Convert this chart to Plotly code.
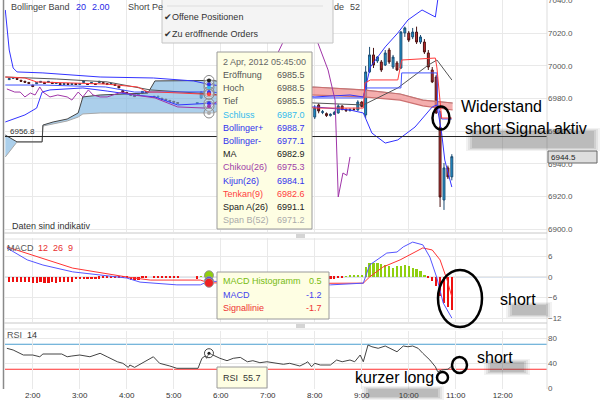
import plotly.graph_objects as go

D = "2012-04-02 "


def T(lst):
    return [D + t for t in lst]


# ---------------- data : candles (5 min) ----------------
candle_times = ["01:30", "01:35", "01:40", "01:45", "01:50", "01:55", "02:00", "02:05", "02:10", "02:15",
                "02:20", "02:25", "02:30", "02:35", "02:40", "02:45", "02:50", "02:55", "03:00", "03:05",
                "03:10", "03:15", "03:20", "03:25", "03:30", "03:35", "03:40", "03:45", "03:50", "03:55",
                "04:00", "04:05", "04:10", "04:15", "04:20", "04:25", "04:35", "04:40", "04:45", "04:50",
                "04:55", "05:00", "05:05", "05:30", "05:35", "05:40", "05:45",
                "08:00", "08:05", "08:10", "08:15", "08:20", "08:25", "08:30", "08:35", "08:40", "08:45",
                "08:50", "08:55", "09:00", "09:05", "09:10", "09:15", "09:20", "09:25", "09:30", "09:35",
                "09:40", "09:45", "09:50", "09:55", "10:00", "10:05", "10:10", "10:15", "10:20", "10:25",
                "10:30", "10:35", "10:40", "10:45", "10:50", "10:55"]
candle_open = [6991.6, 6992.4, 6992.4, 6991.2, 6990.6, 6989.9, 6988.2, 6989.1, 6989.9, 6989.9,
               6989.9, 6989.9, 6989.2, 6989.2, 6988.6, 6989.2, 6988.6, 6989.2, 6988.6, 6989.8,
               6989.2, 6989.2, 6989.2, 6989.8, 6989.8, 6989.2, 6988.6, 6988.6, 6987.6, 6985.0,
               6983.8, 6982.6, 6982.0, 6981.8, 6983.4, 6984.4, 6981.4, 6980.8, 6980.2, 6979.6,
               6978.9, 6978.3, 6977.6, 6977.0, 6980.4, 6983.4, 6985.5,
               6968.7, 6976.1, 6971.5, 6970.8, 6969.6, 6970.4, 6971.2, 6975.5, 6973.4, 6972.6,
               6973.4, 6973.0, 6977.9, 6970.0, 6996.3, 7006.7, 7003.0, 7002.4, 7000.5, 7009.7,
               6999.3, 7001.8, 6998.7, 7020.1, 7020.1, 7017.7, 7020.7, 7014.6, 7014.6, 7007.9,
               6997.5, 6993.2, 6962.6, 6918.0, 6937.6, 6932.1]
candle_high = [6992.4, 6993.0, 6992.6, 6991.4, 6990.8, 6990.1, 6988.4, 6990.0, 6990.7, 6990.1,
               6990.7, 6990.1, 6990.0, 6989.4, 6989.4, 6989.4, 6989.4, 6989.4, 6989.4, 6990.8,
               6989.4, 6990.0, 6989.4, 6990.8, 6990.0, 6989.4, 6989.4, 6988.8, 6987.8, 6985.2,
               6984.0, 6982.8, 6982.2, 6982.8, 6984.6, 6984.6, 6981.6, 6981.6, 6980.4, 6979.8,
               6979.1, 6978.5, 6977.8, 6977.8, 6984.6, 6984.0, 6988.5,
               6976.0, 6977.0, 6973.0, 6971.5, 6971.0, 6972.5, 6976.5, 6975.8, 6974.0, 6974.0,
               6974.4, 6979.0, 6978.4, 6999.9, 7011.6, 7011.0, 7006.0, 7003.6, 7009.7, 7011.0,
               7006.7, 7003.0, 7021.3, 7024.0, 7021.3, 7023.2, 7024.0, 7018.9, 7016.4, 7009.7,
               6999.3, 6994.4, 6972.4, 6940.6, 6939.0, 6946.0]
candle_low = [6991.4, 6992.2, 6991.6, 6990.4, 6989.8, 6989.1, 6987.0, 6988.9, 6989.7, 6989.0,
              6989.7, 6989.0, 6989.0, 6988.4, 6988.4, 6988.4, 6988.4, 6988.4, 6988.4, 6989.6,
              6988.4, 6989.0, 6988.4, 6989.6, 6989.0, 6988.4, 6988.4, 6987.8, 6986.4, 6983.6,
              6983.0, 6981.8, 6981.0, 6981.6, 6983.2, 6983.6, 6980.6, 6980.6, 6979.4, 6978.8,
              6978.2, 6977.6, 6976.9, 6976.8, 6979.8, 6981.6, 6985.5,
              6967.5, 6971.0, 6970.5, 6968.8, 6969.0, 6970.0, 6970.8, 6972.8, 6971.8, 6972.2,
              6972.8, 6972.6, 6974.6, 6968.1, 6995.7, 6998.7, 7001.8, 6996.3, 6999.9, 7001.2,
              6998.1, 6996.9, 6998.1, 7017.7, 7014.6, 7016.4, 7013.4, 7013.4, 7007.3, 6997.5,
              6989.5, 6970.6, 6913.7, 6911.9, 6930.8, 6930.0]
candle_close = [6992.2, 6992.8, 6991.8, 6990.6, 6990.0, 6989.3, 6987.4, 6989.8, 6990.5, 6989.2,
                6990.5, 6989.2, 6989.8, 6988.6, 6989.2, 6988.6, 6989.2, 6988.6, 6989.2, 6990.6,
                6988.6, 6989.8, 6988.6, 6990.6, 6989.2, 6988.6, 6989.2, 6988.0, 6986.6, 6983.8,
                6983.2, 6982.0, 6981.2, 6982.6, 6984.4, 6983.8, 6980.8, 6981.4, 6979.6, 6979.0,
                6978.4, 6977.8, 6977.1, 6977.6, 6984.0, 6982.2, 6987.0,
                6974.2, 6972.4, 6972.0, 6969.6, 6970.4, 6971.5, 6975.5, 6973.4, 6972.6, 6973.4,
                6973.2, 6977.9, 6975.2, 6996.3, 7006.7, 7000.5, 7005.4, 6997.5, 7007.9, 7002.4,
                7005.4, 6997.5, 7020.7, 7023.2, 7015.8, 7020.7, 7014.6, 7017.7, 7008.5, 6999.3,
                6990.2, 6971.2, 6919.8, 6937.6, 6932.1, 6944.5]

# ---------------- data : indicators (main panel) ----------------
span_times = ["01:25", "01:40", "02:12", "02:13", "02:26", "02:44", "02:58", "03:04", "03:26", "04:27",
              "04:36", "05:45", "05:50", "06:30", "07:10", "07:58", "09:02", "09:49", "10:18", "10:56"]
span_a = [6957.7, 6953.5, 6953.5, 6963.8, 6965.7, 6967.5, 6971.2, 6981.0, 6982.2, 6983.4,
          6990.8, 6991.1, 6991.1, 6988.0, 6983.0, 6982.2, 6981.0, 6979.1, 6975.5, 6973.0]
span_b = [6944.3, 6953.5, 6953.5, 6963.2, 6964.5, 6966.3, 6968.7, 6970.6, 6971.2, 6971.2,
          6971.2, 6971.2, 6971.2, 6978.0, 6983.0, 6987.1, 6985.3, 6982.8, 6979.1, 6977.3]
cloud_switch = "07:10"

bb_up_times = ["01:25", "01:30", "01:35", "01:40", "02:13", "03:26", "04:34", "05:25", "05:45", "07:00",
               "08:00", "08:45", "09:02", "09:11", "09:30", "09:46", "09:59", "10:17", "10:34", "10:37",
               "10:45", "10:55"]
bb_up = [7034.2, 7009.7, 6998.7, 6996.3, 6995.7, 6993.2, 6992.6, 6990.8, 6988.7, 6984.0,
         6981.0, 6982.2, 6981.0, 6999.3, 7011.6, 7020.1, 7028.1, 7034.2, 7029.9, 7040.3,
         7058.6, 7067.8]
bb_low_times = ["01:25", "01:50", "02:05", "02:12", "02:22", "03:04", "03:35", "04:10", "04:36", "05:05",
                "05:45", "07:00", "08:00", "08:45", "09:02", "09:13", "09:30", "09:46", "10:08", "10:30",
                "10:36", "10:42", "10:46", "10:55"]
bb_low = [6965.7, 6970.0, 6974.2, 6984.0, 6985.3, 6986.5, 6984.6, 6982.2, 6981.0, 6976.1,
          6977.1, 6974.2, 6974.9, 6973.0, 6971.2, 6958.9, 6952.8, 6954.7, 6962.6, 6974.9,
          6976.1, 6958.9, 6942.4, 6925.9]
ma_times = ["01:25", "02:30", "03:35", "04:14", "04:30", "05:45", "07:00", "08:00", "09:02", "09:46",
            "10:25", "10:36", "10:55"]
ma = [6993.2, 6992.0, 6990.2, 6986.5, 6985.3, 6982.9, 6979.1, 6977.3, 6976.1, 6986.5,
      7000.5, 7003.6, 6991.4]
tenkan_times = ["01:25", "01:50", "02:05", "03:33", "04:14", "04:27", "04:40", "05:45", "07:00", "08:00",
                "09:02", "09:04", "09:11", "09:46", "09:51", "10:25", "10:34", "10:36", "10:40", "10:42",
                "10:55"]
tenkan = [6993.2, 6992.6, 6990.2, 6988.9, 6987.1, 6984.0, 6984.0, 6982.6, 6979.1, 6974.2,
          6974.2, 6989.5, 6991.4, 6991.4, 7003.6, 7004.8, 7004.8, 6998.7, 6979.1, 6968.1,
          6968.1]
kijun_times = ["01:25", "02:13", "03:33", "04:10", "05:45", "07:00", "08:00", "09:02", "09:05", "09:50",
               "09:51", "10:36", "10:37", "10:42", "10:55"]
kijun = [6988.3, 6988.3, 6987.1, 6984.0, 6984.1, 6981.0, 6980.4, 6980.4, 6986.5, 6986.5,
         6995.7, 6995.7, 6976.1, 6967.5, 6967.5]
chikou_times = ["01:27", "01:37", "01:44", "01:50", "01:57", "02:03", "02:09", "02:13", "02:22", "02:32",
                "02:44", "02:50", "02:58", "03:04", "03:11", "03:17", "03:26", "03:35", "03:54", "04:10",
                "04:36", "05:05", "05:40", "05:45", "06:30", "07:10", "07:50", "07:58", "08:04", "08:17",
                "08:26", "08:30", "08:36", "08:41", "08:45"]
chikou = [6985.9, 6984.0, 6984.0, 6981.0, 6983.4, 6982.2, 6987.1, 6984.0, 6981.0, 6982.2,
          6981.0, 6979.1, 6984.0, 6981.0, 6985.3, 6982.2, 6981.0, 6981.0, 6984.0, 6982.2,
          6980.4, 6974.9, 6974.2, 6975.3, 6988.0, 7005.0, 7045.0, 7032.0, 7014.0, 6997.5,
          6979.0, 6919.8, 6934.5, 6933.0, 6944.3]
level_line = 6956.8
last_price = 6944.5

# tooltip at 05:45
tip_time = "05:45"
tip_labels = ["Eröffnung", "Hoch", "Tief", "Schluss", "Bollinger+", "Bollinger-", "MA",
              "Chikou(26)", "Kijun(26)", "Tenkan(9)", "Span A(26)", "Span B(52)"]
tip_values = [6985.5, 6988.5, 6985.5, 6987.0, 6988.7, 6977.1, 6982.9, 6975.3, 6984.1, 6982.6, 6991.1, 6971.2]

# ---------------- data : MACD ----------------
macd_hist = [-1.5, -1.5, -1.4, -1.5, -1.4, -1.6, -1.7, -1.7, -1.6, -1.7, -1.7, -1.6, -1.7, -1.6, -1.6,
             -1.5, -1.5, -0.7, -0.7, -0.6, -0.7, -0.6, -0.6, -0.5, -0.3, -0.3, -0.3, -0.2, -0.3, -0.3,
             -0.4, -0.9, -0.9, -0.8, -0.3, -0.3, -0.3, -0.2, -0.3, -0.3, -0.2, -0.3, -0.3, -0.5, 0.2,
             0.3, 0.5,
             -0.3, -0.3, -0.4, -0.4, -0.5, -0.5, -0.3, -0.1, 0.1, 0.3, 0.3, 0.4, 0.6, 3.0, 4.1, 4.1,
             4.1, 3.8, 3.5, 3.2, 2.6, 3.2, 3.2, 3.5, 3.2, 2.6, 2.2, 1.7, 0.6, -0.4, -1.2, -2.5, -5.5,
             -7.5, -8.8, -9.6]
macd_times = ["01:27", "01:53", "02:13", "02:51", "04:00", "04:17", "05:04", "05:34", "05:45", "07:00",
              "08:20", "09:02", "09:10", "09:32", "09:45", "09:53", "10:05", "10:18", "10:27", "10:36",
              "10:44", "10:55"]
macd = [8.5, 5.0, 3.5, 1.5, -0.3, -1.5, -2.3, -2.3, -1.2, -2.0,
        -2.3, -1.8, 3.5, 7.0, 7.3, 8.8, 10.2, 9.4, 5.8, -0.3, -7.6, -12.0]
signal_times = ["01:27", "02:00", "02:51", "04:00", "04:30", "05:34", "05:45", "07:00", "08:20", "09:02",
                "09:10", "09:27", "09:49", "10:05", "10:18", "10:30", "10:40", "10:49", "10:55"]
signal = [8.8, 6.4, 2.6, 0.0, -0.9, -0.9, -1.7, -1.9, -1.8, -1.8,
          0.0, 2.9, 5.0, 7.0, 8.5, 7.9, 5.0, -0.9, -5.8]
macd_tip = [0.5, -1.2, -1.7]

# ---------------- data : RSI ----------------
rsi_times = ["01:27", "01:35", "01:48", "02:00", "02:09", "02:13", "02:37", "02:44", "02:50", "03:00",
             "03:13", "03:26", "03:35", "03:48", "03:55", "04:02", "04:04", "04:10", "04:34", "04:42",
             "04:55", "05:04", "05:31", "05:36", "05:40", "05:42", "05:45", "05:59", "06:08", "06:16",
             "06:25", "06:34", "06:41", "06:50", "06:59", "07:12", "07:20", "07:28", "07:41", "07:48",
             "07:51", "07:56", "08:00", "08:07", "08:20", "08:28", "08:35", "08:45", "08:51", "08:58",
             "09:02", "09:08", "09:13", "09:21", "09:30", "09:36", "09:45", "09:53", "09:59", "10:05",
             "10:12", "10:18", "10:27", "10:34", "10:37", "10:42", "10:46", "10:50", "10:55"]
rsi = [63.5, 60.8, 52.8, 52.8, 50.0, 54.4, 54.4, 50.0, 51.2, 52.8,
       50.0, 55.5, 50.0, 42.0, 39.5, 33.0, 36.8, 33.0, 50.0, 39.5,
       35.2, 31.5, 31.5, 47.5, 51.2, 47.5, 55.7, 47.5, 43.7, 47.5,
       49.0, 42.0, 43.7, 40.5, 42.0, 39.5, 37.9, 39.5, 35.2, 39.5,
       42.0, 34.0, 39.5, 36.8, 36.8, 44.8, 42.0, 44.8, 42.0, 52.8,
       42.0, 68.8, 66.0, 63.5, 67.2, 63.5, 58.0, 67.2, 66.0, 67.2,
       63.5, 55.5, 44.8, 34.0, 26.0, 28.8, 30.0, 30.0, 35.2]
rsi_upper, rsi_lower = 70, 30
rsi_tip = 55.7

main_ticks = [6900, 6920, 6940, 6960, 6980, 7000, 7020, 7040]
macd_ticks = [-12, -6, 0, 6]
rsi_ticks = [0, 40, 80]

# ---------------- figure ----------------
FONT = "Arial, Liberation Sans, sans-serif"
fig = go.Figure()

k = span_times.index(cloud_switch)
# blue cloud
fig.add_trace(go.Scatter(x=T(span_times[:k + 1]), y=span_b[:k + 1], mode="lines",
                         line=dict(color="rgba(0,0,0,0)", width=0), xaxis="x", yaxis="y", showlegend=False))
fig.add_trace(go.Scatter(x=T(span_times[:k + 1]), y=span_a[:k + 1], mode="lines", fill="tonexty",
                         fillcolor="rgba(120,178,222,0.62)", line=dict(color="rgba(0,0,0,0)", width=0),
                         xaxis="x", yaxis="y", showlegend=False))
# red cloud
fig.add_trace(go.Scatter(x=T(span_times[k:]), y=span_a[k:], mode="lines",
                         line=dict(color="rgba(0,0,0,0)", width=0), xaxis="x", yaxis="y", showlegend=False))
fig.add_trace(go.Scatter(x=T(span_times[k:]), y=span_b[k:], mode="lines", fill="tonexty",
                         fillcolor="rgba(240,140,140,0.7)", line=dict(color="rgba(0,0,0,0)", width=0),
                         xaxis="x", yaxis="y", showlegend=False))
# span lines
fig.add_trace(go.Scatter(x=T(span_times), y=span_b, mode="lines", line=dict(color="#a8a8a8", width=1),
                         xaxis="x", yaxis="y", showlegend=False))
fig.add_trace(go.Scatter(x=T(span_times[:k + 1]), y=span_a[:k + 1], mode="lines", line=dict(color="#444", width=1),
                         xaxis="x", yaxis="y", showlegend=False))
fig.add_trace(go.Scatter(x=T(span_times[k:]), y=span_a[k:], mode="lines", line=dict(color="#cc7070", width=1.2),
                         xaxis="x", yaxis="y", showlegend=False))
fig.add_trace(go.Scatter(x=T(span_times[k:]), y=span_b[k:], mode="lines", line=dict(color="#cc7070", width=1.2),
                         xaxis="x", yaxis="y", showlegend=False))

for xs, ys, col, w in [(bb_up_times, bb_up, "#3333ff", 1), (bb_low_times, bb_low, "#3333ff", 1),
                       (ma_times, ma, "#555555", 1), (kijun_times, kijun, "#4455ff", 1),
                       (tenkan_times, tenkan, "#ff3b3b", 1), (chikou_times, chikou, "#a035a8", 1)]:
    fig.add_trace(go.Scatter(x=T(xs), y=ys, mode="lines", line=dict(color=col, width=w),
                             xaxis="x", yaxis="y", showlegend=False))

fig.add_trace(go.Candlestick(
    x=T(candle_times), open=candle_open, high=candle_high, low=candle_low, close=candle_close,
    increasing=dict(line=dict(color="#1d4d73", width=1), fillcolor="#1e9ad8"),
    decreasing=dict(line=dict(color="#4a1414", width=1), fillcolor="#c42a2a"),
    whiskerwidth=0, xaxis="x", yaxis="y", showlegend=False))

tip_colors = ["#555", "#555", "#555", "#33bbee", "#3333ee", "#3333ee", "#222", "#a040a8",
              "#3333ee", "#ff4040", "#222", "#aaaaaa"]
mk_idx = [3, 4, 5, 6, 7, 8, 9, 10, 11]
fig.add_trace(go.Scatter(x=T([tip_time] * len(mk_idx)), y=[tip_values[i] for i in mk_idx], mode="markers",
                         marker=dict(size=10, color="rgba(255,255,255,0.25)", line=dict(color="#888", width=1)),
                         xaxis="x", yaxis="y", showlegend=False))
fig.add_trace(go.Scatter(x=T([tip_time] * len(mk_idx)), y=[tip_values[i] for i in mk_idx], mode="markers",
                         marker=dict(size=4, color=[tip_colors[i] for i in mk_idx]),
                         xaxis="x", yaxis="y", showlegend=False))

# MACD panel
fig.add_trace(go.Bar(x=T(candle_times), y=macd_hist, width=170000,
                     marker=dict(color=["#8fcf10" if v > 0 else "#ee1010" for v in macd_hist], line=dict(width=0)),
                     xaxis="x2", yaxis="y2", showlegend=False))
fig.add_trace(go.Scatter(x=T(signal_times), y=signal, mode="lines", line=dict(color="#ff3333", width=1),
                         xaxis="x2", yaxis="y2", showlegend=False))
fig.add_trace(go.Scatter(x=T(macd_times), y=macd, mode="lines", line=dict(color="#5555ff", width=1),
                         xaxis="x2", yaxis="y2", showlegend=False))
fig.add_trace(go.Scatter(x=T([tip_time] * 3), y=macd_tip, mode="markers",
                         marker=dict(size=9, color=["#8fcf10", "#4444ee", "#ee2222"], line=dict(color="#999", width=1)),
                         xaxis="x2", yaxis="y2", showlegend=False))

# RSI panel
fig.add_trace(go.Scatter(x=T(rsi_times), y=rsi, mode="lines", line=dict(color="#444", width=1),
                         xaxis="x3", yaxis="y3", showlegend=False))
fig.add_trace(go.Scatter(x=T([tip_time]), y=[rsi_tip], mode="markers",
                         marker=dict(size=9, color="rgba(255,255,255,0.3)", line=dict(color="#444", width=1)),
                         xaxis="x3", yaxis="y3", showlegend=False))
fig.add_trace(go.Scatter(x=T([tip_time]), y=[rsi_tip], mode="markers",
                         marker=dict(size=3, color="#222"), xaxis="x3", yaxis="y3", showlegend=False))

# ---------------- overlays (pixel helpers) ----------------
W, H0 = 542, 389


def PX(x):
    return (x - 5) / W


def PY(y):
    return (H0 - y) / H0


shapes = []
annotations = []


def rect(x0, y0, x1, y1, fill, line=None, lw=1):
    shapes.append(dict(type="rect", xref="paper", yref="paper", x0=PX(x0), x1=PX(x1), y0=PY(y1), y1=PY(y0),
                       fillcolor=fill, line=dict(color=line if line else "rgba(0,0,0,0)", width=lw if line else 0),
                       layer="above"))


def ell(x0, y0, x1, y1, lw=2.5):
    shapes.append(dict(type="circle", xref="paper", yref="paper", x0=PX(x0), x1=PX(x1), y0=PY(y1), y1=PY(y0),
                       line=dict(color="black", width=lw), layer="above"))


def pline(x0, y0, x1, y1, col, lw=1):
    shapes.append(dict(type="line", xref="paper", yref="paper", x0=PX(x0), x1=PX(x1), y0=PY(y0), y1=PY(y1),
                       line=dict(color=col, width=lw), layer="above"))


def txt(x, y, s, size=9, color="#333", anchor="left"):
    annotations.append(dict(x=PX(x), y=PY(y), xref="paper", yref="paper", text=s, showarrow=False,
                            xanchor=anchor, yanchor="middle", borderpad=0,
                            font=dict(size=size, color=color, family=FONT)))


def shadow(x0, y0, x1, y1):
    for i, a in enumerate([0.07, 0.09, 0.12, 0.14]):
        rect(x0 + 2 * i, y0 + i, x1 - 2 * i, y1 - i, "rgba(70,70,70,%.2f)" % a)


# reference lines
shapes.append(dict(type="line", xref="paper", yref="y", x0=0, x1=1, y0=level_line, y1=level_line,
                   line=dict(color="#222", width=1), layer="above"))
shapes.append(dict(type="line", xref="paper", yref="y2", x0=0, x1=1, y0=0, y1=0,
                   line=dict(color="#b8c8dc", width=1), layer="below"))
shapes.append(dict(type="line", xref="paper", yref="y3", x0=0, x1=1, y0=rsi_upper, y1=rsi_upper,
                   line=dict(color="#4b9fd0", width=1), layer="below"))
shapes.append(dict(type="line", xref="paper", yref="y3", x0=0, x1=1, y0=rsi_lower, y1=rsi_lower,
                   line=dict(color="#ff3030", width=1), layer="below"))

# panel borders / separators
pline(3.5, 0, 3.5, 389, "#8a8a8a", 1.5)
pline(547, 0, 547, 389, "#dddddd", 1)
pline(4, 233, 547, 233, "#c8c8c8", 1)
pline(4, 239, 547, 239, "#e2e2e2", 1)
pline(4, 323, 547, 323, "#c8c8c8", 1)
pline(4, 329, 547, 329, "#e2e2e2", 1)
for yy in (235, 237, 325, 327):
    pline(296, yy, 305, yy, "#aaaaaa", 1)

# shadows of pasted annotations
shadow(466, 128, 600, 151)
shadow(506, 302, 552, 318)
shadow(484, 359, 530, 375)
shadow(362, 386, 444, 400)

# tooltip boxes
rect(217, 52, 312, 229, "#fefee3", "#9a9a9a")
rect(217, 272, 329, 319, "#fefee3", "#9a9a9a")
rect(217, 367, 267, 388, "#fefee3", "#9a9a9a")
# menu
rect(162, -3, 333, 43, "#f4f4f4", "#c4c4c4")
pline(167, 6, 323, 6, "#dedede", 1)
# last price label
rect(548, 151, 597, 163, "#dedede", "#666666")

# hand-drawn ellipses
ell(432.5, 106.5, 449.5, 129.5)
ell(438, 270, 482, 327)
ell(437, 372, 448, 383)
ell(452, 357, 467, 373)

# texts
txt(10, 7, "Bollinger Band", 9, "#444")
txt(75, 7, "20", 9, "#2727e6")
txt(91, 7, "2.00", 9, "#2727e6")
txt(127, 7, "Short Pe", 9, "#444")
txt(333, 7, "de", 9, "#444")
txt(349, 7, "52", 9, "#444")
txt(163, 17, "✔Offene Positionen", 9, "#333")
txt(163, 34, "✔Zu eröffnende Orders", 9, "#333")
txt(9, 131, "%.1f" % level_line, 8, "#333")
txt(11, 226, "Daten sind indikativ", 9, "#333")
txt(6, 248, "MACD", 9, "#555")
txt(37, 248, "12", 9, "#e83030")
txt(52, 248, "26", 9, "#e83030")
txt(67, 248, "9", 9, "#e83030")
txt(6, 335, "RSI", 9, "#555")
txt(26, 335, "14", 9, "#333")
txt(550, 157, "%.1f" % last_price, 8, "#222")

txt(222, 62, "2 Apr, 2012 " + tip_time + ":00", 9, "#666")
for i, (lab, val) in enumerate(zip(tip_labels, tip_values)):
    yy = 75 + i * 13.2
    txt(222, yy, lab, 9, tip_colors[i])
    txt(306, yy, "%.1f" % val, 9, tip_colors[i], "right")
for i, (lab, col) in enumerate([("MACD Histogramm", "#77bb11"), ("MACD", "#4444ee"), ("Signallinie", "#ee3333")]):
    yy = 281 + i * 13.5
    txt(222, yy, lab, 9, col)
    txt(323, yy, "%.1f" % macd_tip[i], 9, col, "right")
txt(222, 377.5, "RSI  %.1f" % rsi_tip, 9, "#333")

txt(460, 106, "Widerstand", 16, "black")
txt(464, 128, "short Signal aktiv", 16, "black")
txt(499, 299, "short", 16, "black")
txt(476, 357, "short", 16, "black")
txt(354, 377, "kurzer long", 16, "black")

# ---------------- layout ----------------
xr = [D + "01:24:36", D + "12:56:30"]
xcommon = dict(type="date", showgrid=True, gridcolor="#e9e9e9", gridwidth=1, dtick=3600000,
               tick0=D + "00:00", zeroline=False, showline=False, ticks="", fixedrange=True, automargin=False)
ycommon = dict(side="right", showgrid=True, gridcolor="#e9e9e9", zeroline=False, showline=False, ticks="",
               ticklabeloverflow="allow", automargin=False, tickfont=dict(size=8, color="#555", family=FONT))

fig.update_layout(
    width=600, height=400, margin=dict(l=5, r=53, t=0, b=11, autoexpand=False),
    paper_bgcolor="white", plot_bgcolor="white", showlegend=False, font=dict(family=FONT),
    bargap=0,
    xaxis=dict(xcommon, domain=[0, 1], anchor="y", range=xr, showticklabels=False,
               rangeslider=dict(visible=False)),
    xaxis2=dict(xcommon, domain=[0, 1], anchor="y2", matches="x", showticklabels=False),
    xaxis3=dict(xcommon, domain=[0, 1], anchor="y3", matches="x", showticklabels=True,
                tickformat="%-H:%M", tickfont=dict(size=8, color="#333", family=FONT)),
    yaxis=dict(ycommon, domain=[(389 - 232) / 389, 1], anchor="x", range=[6898.4, 7040.3],
               tickvals=main_ticks, tickformat=".1f"),
    yaxis2=dict(ycommon, domain=[(389 - 322) / 389, (389 - 238) / 389], anchor="x2", range=[-13.16, 11.4],
                tickvals=macd_ticks),
    yaxis3=dict(ycommon, domain=[0, (389 - 331) / 389], anchor="x3", range=[-1.6, 91.2],
                tickvals=rsi_ticks),
    shapes=shapes, annotations=annotations,
)

fig.write_html("out.html", config={"displayModeBar": False},
               post_script="document.body.style.margin='0';document.body.style.overflow='hidden';")
